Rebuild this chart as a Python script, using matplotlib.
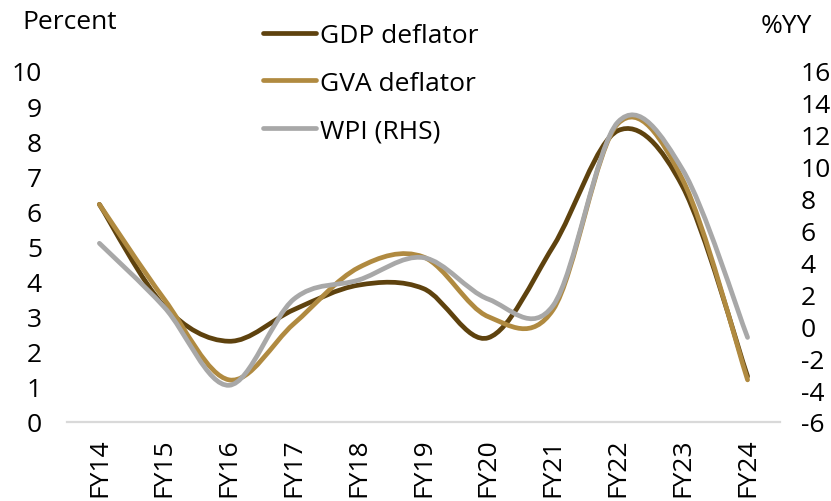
import matplotlib.pyplot as plt
import numpy as np
from matplotlib.path import Path
from matplotlib.patches import PathPatch
from matplotlib.lines import Line2D

plt.rcParams['font.family'] = ['Open Sans', 'DejaVu Sans']

years = ['FY14', 'FY15', 'FY16', 'FY17', 'FY18', 'FY19', 'FY20', 'FY21', 'FY22', 'FY23', 'FY24']
gdp_deflator = [6.2, 3.3, 2.3, 3.2, 3.9, 3.8, 2.4, 5.0, 8.3, 6.7, 1.3]
gva_deflator = [6.2, 3.5, 1.2, 2.8, 4.4, 4.7, 3.0, 3.2, 8.5, 6.9, 1.2]
wpi = [5.2, 1.2, -3.7, 1.7, 2.9, 4.3, 1.7, 1.3, 12.8, 9.8, -0.7]

left_ticks = list(range(0, 11))
right_ticks = list(range(-6, 17, 2))

GDP_COLOR = '#5E420E'
GVA_COLOR = '#B08A40'
WPI_COLOR = '#A8A8A8'
FS = 19


def smooth_path(x, y):
    # Excel-style smoothed line: cubic bezier through every point
    x = np.asarray(x, float)
    y = np.asarray(y, float)
    pts = np.column_stack([x, y])
    n = len(pts)
    verts = [pts[0]]
    codes = [Path.MOVETO]
    for i in range(n - 1):
        p0 = pts[i - 1] if i > 0 else pts[i]
        p1 = pts[i]
        p2 = pts[i + 1]
        p3 = pts[i + 2] if i + 2 < n else pts[i + 1]
        c1 = p1 + (p2 - p0) / 6.0
        c2 = p2 - (p3 - p1) / 6.0
        verts += [c1, c2, p2]
        codes += [Path.CURVE4] * 3
    return Path(verts, codes)


fig = plt.figure(figsize=(8.31, 5.02), dpi=100)
ax = fig.add_axes([0.0806, 0.1574, 0.858, 0.6992])
ax2 = ax.twinx()

xs = np.arange(len(years))
for series, color in [(gdp_deflator, GDP_COLOR), (gva_deflator, GVA_COLOR)]:
    ax.add_patch(PathPatch(smooth_path(xs, series), facecolor='none', edgecolor=color,
                           lw=3.4, capstyle='round', joinstyle='round', zorder=3))
ax2.add_patch(PathPatch(smooth_path(xs, wpi), facecolor='none', edgecolor=WPI_COLOR,
                        lw=3.4, capstyle='round', joinstyle='round', zorder=3))

ax.set_xlim(-0.5, len(years) - 0.5)
ax.set_ylim(0, 10)
ax2.set_ylim(-6, 16)
ax.axhline(0, color='#D9D9D9', lw=1.6, zorder=1, clip_on=False)

for a in (ax, ax2):
    for s in a.spines.values():
        s.set_visible(False)

ax.set_xticks(xs)
ax.set_xticklabels(years, rotation=90, fontsize=FS)
ax.set_yticks(left_ticks)
ax.set_yticklabels([str(t) for t in left_ticks], fontsize=FS)
ax2.set_yticks(right_ticks)
ax2.set_yticklabels([str(t) for t in right_ticks], fontsize=FS)
for lab in ax2.get_yticklabels():
    lab.set_horizontalalignment('left')
ax.tick_params(axis='x', length=0, pad=11)
ax.tick_params(axis='y', length=0, pad=18)
ax2.tick_params(axis='y', length=0, pad=15)

fig.text(0.027, 0.956, 'Percent', fontsize=FS, va='center', ha='left')
fig.text(0.915, 0.948, '%YY', fontsize=FS, va='center', ha='left')

handles = [Line2D([], [], color=GDP_COLOR, lw=3.4, solid_capstyle='round'),
           Line2D([], [], color=GVA_COLOR, lw=3.4, solid_capstyle='round'),
           Line2D([], [], color=WPI_COLOR, lw=3.4, solid_capstyle='round')]
fig.legend(handles, ['GDP deflator', 'GVA deflator', 'WPI (RHS)'],
           loc='upper left', bbox_to_anchor=(0.288, 1.0), frameon=False,
           fontsize=FS, handlelength=2.0, handletextpad=0.15, labelspacing=0.87)

fig.savefig('out.png', dpi=100)
